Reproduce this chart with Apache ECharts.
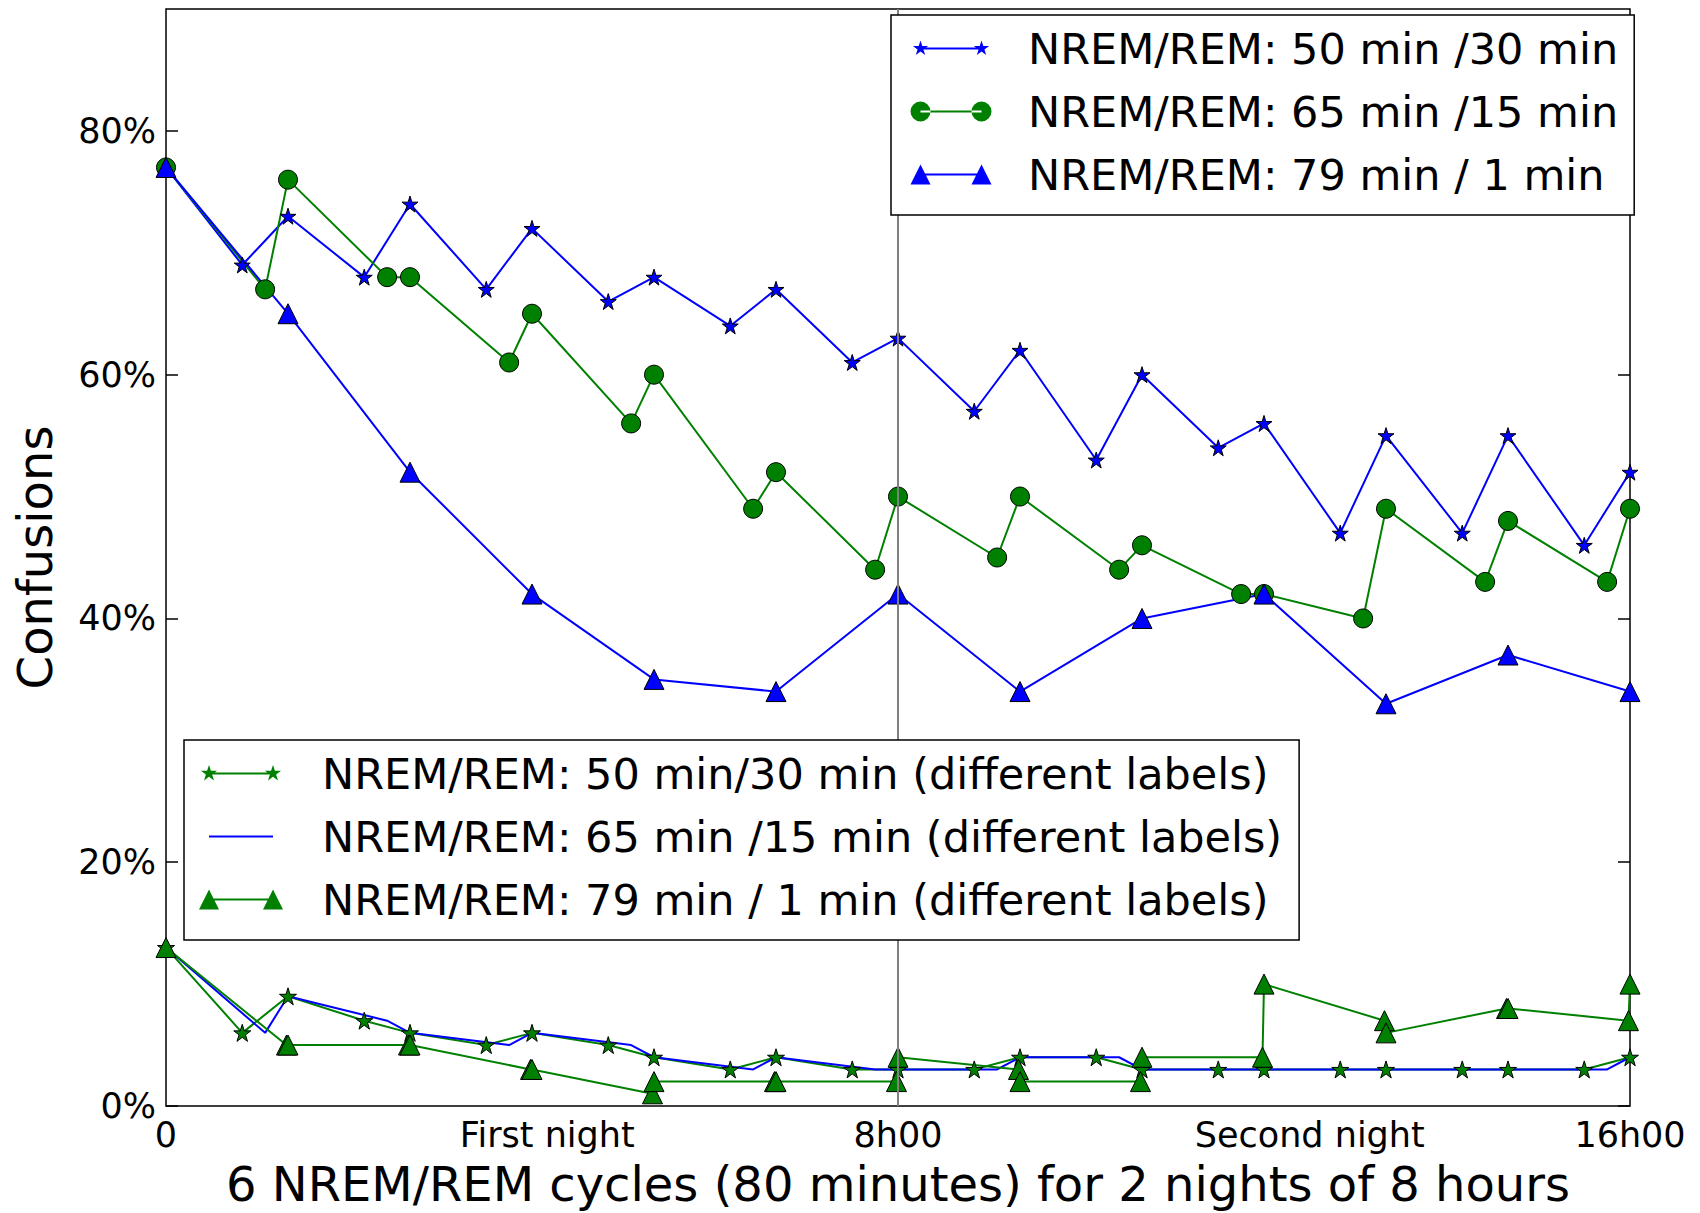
<!DOCTYPE html>
<html>
<head>
<meta charset="utf-8">
<script src="https://cdn.jsdelivr.net/npm/echarts@6/dist/echarts.min.js"></script>
<style>
html, body { margin: 0; padding: 0; background: #ffffff; }
#chart { width: 1700px; height: 1213px; }
</style>
</head>
<body>
<div id="chart"></div>
<script>
// ---------- data ----------
const xTickValues = [0, 250, 480, 750, 960];
const xTickLabels = ['0', 'First night', '8h00', 'Second night', '16h00'];
const yTickValues = [0, 20, 40, 60, 80];
const dividerX = [480];

const seriesNames = [
  'NREM/REM: 50 min /30 min',
  'NREM/REM: 65 min /15 min',
  'NREM/REM: 79 min / 1 min',
  'NREM/REM: 50 min/30 min (different labels)',
  'NREM/REM: 65 min /15 min (different labels)',
  'NREM/REM: 79 min / 1 min (different labels)'
];

// 50 min NREM / 30 min REM sampling (minutes)
const starX = [0, 50, 80, 130, 160, 210, 240, 290, 320, 370, 400, 450, 480, 530, 560, 610, 640, 690, 720, 770, 800, 850, 880, 930, 960];
const starY = [77, 69, 73, 68, 74, 67, 72, 66, 68, 64, 67, 61, 63, 57, 62, 53, 60, 54, 56, 47, 55, 47, 55, 46, 52];

// 65 min NREM / 15 min REM
const circleX = [0, 65, 80, 145, 160, 225, 240, 305, 320, 385, 400, 465, 480, 545, 560, 625, 640, 705, 720, 785, 800, 865, 880, 945, 960];
const circleY = [77, 67, 76, 68, 68, 61, 65, 56, 60, 49, 52, 44, 50, 45, 50, 44, 46, 42, 42, 40, 49, 43, 48, 43, 49];

// 79 min NREM / 1 min REM
const triX = [0, 80, 160, 240, 320, 400, 480, 560, 640, 720, 800, 880, 960];
const triY = [77, 65, 52, 42, 35, 34, 42, 34, 40, 42, 33, 37, 34];

// different labels
const diffStarY = [13, 6, 9, 7, 6, 5, 6, 5, 4, 3, 4, 3, 3, 3, 4, 4, 3, 3, 3, 3, 3, 3, 3, 3, 4];
const diffCircleY = [13, 6, 9, 7, 6, 5, 6, 5, 4, 3, 4, 3, 3, 3, 4, 4, 3, 3, 3, 3, 3, 3, 3, 3, 4];
const diffTriX = [0, 79, 80, 159, 160, 239, 240, 319, 320, 399, 400, 479, 480, 559, 560, 639, 640, 719, 720, 799, 800, 879, 880, 959, 960];
const diffTriY = [13, 5, 5, 5, 5, 3, 3, 1, 2, 2, 2, 2, 4, 3, 2, 2, 4, 4, 10, 7, 6, 8, 8, 7, 10];

// ---------- chart ----------
const FONT = 'DejaVu Sans';
const BLUE = '#0000ff';
const GREEN = '#008000';
const STAR = 'path://M100,0 L122.45,69.1 L195.11,69.1 L136.33,111.8 L158.78,180.9 L100,138.2 L41.22,180.9 L63.67,111.8 L4.89,69.1 L77.55,69.1 Z';

const pair = (xs, ys) => xs.map((x, i) => [x, ys[i]]);
const f = n => n.toFixed(2);

// marker outlines for the legend handles (matplotlib style: marker at both ends)
function markerPath(shape, cx, cy, r) {
  if (shape === 'star') {
    let d = '';
    for (let k = 0; k < 10; k++) {
      const a = (-90 + 36 * k) * Math.PI / 180;
      const rr = k % 2 === 0 ? r : r * 0.382;
      d += (k === 0 ? 'M' : 'L') + f(cx + rr * Math.cos(a)) + ',' + f(cy + rr * Math.sin(a)) + ' ';
    }
    return d + 'Z ';
  }
  if (shape === 'circle') {
    return 'M' + f(cx - r) + ',' + f(cy) + ' A' + r + ',' + r + ' 0 1,0 ' + f(cx + r) + ',' + f(cy) +
      ' A' + r + ',' + r + ' 0 1,0 ' + f(cx - r) + ',' + f(cy) + ' Z ';
  }
  if (shape === 'triangle') {
    return 'M' + f(cx) + ',' + f(cy - r) + ' L' + f(cx + r) + ',' + f(cy + r) + ' L' + f(cx - r) + ',' + f(cy + r) + ' Z ';
  }
  return '';
}
function handleIcon(shape, r, len, W, H) {
  const cy = H / 2, x1 = (W - len) / 2, x2 = x1 + len;
  let d = 'M0,0 L0.001,0 M' + W + ',' + H + ' L' + (W - 0.001) + ',' + H + ' ';
  d += 'M' + f(x1) + ',' + f(cy - 1) + ' L' + f(x2) + ',' + f(cy - 1) + ' L' + f(x2) + ',' + f(cy + 1) + ' L' + f(x1) + ',' + f(cy + 1) + ' Z ';
  d += markerPath(shape, x1, cy, r) + markerPath(shape, x2, cy, r);
  return 'path://' + d;
}

function lineSeries(name, data, color, symbol, size, extra) {
  return Object.assign({
    name: name,
    type: 'line',
    data: data,
    symbol: symbol,
    symbolSize: size,
    showSymbol: symbol !== 'none',
    itemStyle: { color: color, borderColor: '#000', borderWidth: 1 },
    lineStyle: { color: color, width: 2 },
    emphasis: { disabled: true },
    animation: false
  }, extra || {});
}

const legendBase = {
  orient: 'vertical',
  selectedMode: false,
  backgroundColor: '#ffffff',
  borderColor: '#000',
  borderWidth: 1.5,
  borderRadius: 0,
  itemGap: 20,
  itemHeight: 20,
  itemStyle: { borderWidth: 0 },
  z: 10
};

const L1W = 82, L2W = 84, LH = 21;

const chart = echarts.init(document.getElementById('chart'), null, { renderer: 'svg' });

const option = {
  animation: false,
  backgroundColor: '#ffffff',
  textStyle: { fontFamily: FONT },
  grid: {
    left: 166, right: 70, top: 9, bottom: 107,
    outerBoundsMode: 'none',
    containLabel: false,
    show: true, borderColor: '#000', borderWidth: 1.5, backgroundColor: 'transparent'
  },
  xAxis: {
    type: 'value', min: 0, max: 960,
    axisLine: { show: false },
    splitLine: { show: false },
    axisTick: { show: false },
    axisLabel: {
      customValues: xTickValues,
      formatter: v => { const i = xTickValues.indexOf(v); return i >= 0 ? xTickLabels[i] : ''; },
      fontFamily: FONT, fontSize: 35, color: '#000', margin: 11
    },
    name: '6 NREM/REM cycles (80 minutes) for 2 nights of 8 hours',
    nameLocation: 'middle', nameGap: 53,
    nameTextStyle: { fontFamily: FONT, fontSize: 48, lineHeight: 50, color: '#000' }
  },
  yAxis: [{
    type: 'value', min: 0, max: 90,
    axisLine: { show: false },
    splitLine: { show: false },
    axisTick: { show: true, inside: true, length: 12, customValues: yTickValues, lineStyle: { color: '#000', width: 1.5 } },
    axisLabel: { customValues: yTickValues, formatter: '{value}%', fontFamily: FONT, fontSize: 35, color: '#000', margin: 10 },
    name: 'Confusions', nameLocation: 'middle', nameGap: 107, nameRotate: 90,
    nameTextStyle: { fontFamily: FONT, fontSize: 48, color: '#000' }
  }, {
    type: 'value', min: 0, max: 90, position: 'right',
    axisLine: { show: false },
    splitLine: { show: false },
    axisLabel: { show: false },
    axisTick: { show: true, inside: true, length: 12, customValues: yTickValues, lineStyle: { color: '#000', width: 1.5 } }
  }],
  legend: [
    Object.assign({}, legendBase, {
      data: [
        { name: seriesNames[0], icon: handleIcon('star', 8, 61, L1W, LH) },
        { name: seriesNames[1], icon: handleIcon('circle', 10, 61, L1W, LH) },
        { name: seriesNames[2], icon: handleIcon('triangle', 10, 61, L1W, LH) }
      ],
      left: 891, top: 15,
      padding: [12, 16, 19, 19],
      itemWidth: L1W, itemHeight: LH,
      textStyle: { fontFamily: FONT, fontSize: 43, lineHeight: 43, color: '#000', padding: [0, 0, 0, 31] }
    }),
    Object.assign({}, legendBase, {
      data: [
        { name: seriesNames[3], icon: handleIcon('star', 8.5, 64, L2W, LH) },
        { name: seriesNames[4], icon: handleIcon('none', 0, 64, L2W, LH) },
        { name: seriesNames[5], icon: handleIcon('triangle', 10, 64, L2W, LH) }
      ],
      left: 184, top: 740,
      padding: [12, 17, 19, 15],
      itemWidth: L2W, itemHeight: LH,
      textStyle: { fontFamily: FONT, fontSize: 43, lineHeight: 43, color: '#000', padding: [0, 0, 0, 34] }
    })
  ],
  series: [
    lineSeries(seriesNames[0], pair(starX, starY), BLUE, STAR, 16, {
      markLine: {
        silent: true, symbol: ['none', 'none'], label: { show: false },
        lineStyle: { color: '#808080', width: 2, type: 'solid' },
        emphasis: { disabled: true },
        data: dividerX.map(x => ({ xAxis: x }))
      }
    }),
    lineSeries(seriesNames[1], pair(circleX, circleY), GREEN, 'circle', 19),
    lineSeries(seriesNames[2], pair(triX, triY), BLUE, 'triangle', 20),
    lineSeries(seriesNames[3], pair(starX, diffStarY), GREEN, STAR, 17),
    lineSeries(seriesNames[4], pair(circleX, diffCircleY), BLUE, 'none', 0),
    lineSeries(seriesNames[5], pair(diffTriX, diffTriY), GREEN, 'triangle', 20)
  ]
};

chart.setOption(option);
</script>
</body>
</html>
